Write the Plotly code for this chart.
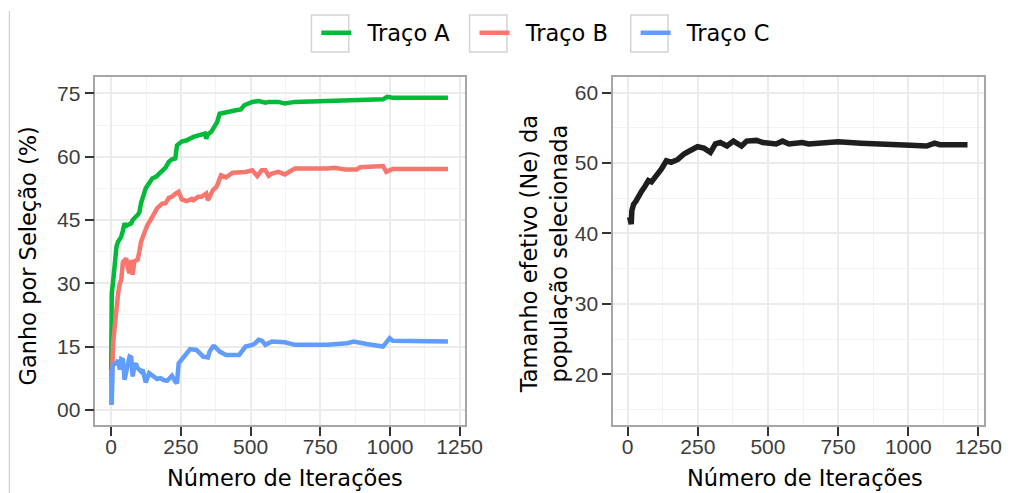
import plotly.graph_objects as go

W, H = 1023, 493

# ---- data ----
series_names = ["Traço A", "Traço B", "Traço C"]
series_colors = ["#00BA38", "#F8766D", "#619CFF"]

a_iter = [0, 2, 7, 13, 19, 25, 31, 36, 42, 48, 54, 60, 72, 77, 89, 95, 101, 107, 118, 124,
          136, 148, 160, 171, 183, 195, 207, 218, 230, 236, 253, 271, 295, 318, 336, 341, 347, 359, 371, 380,
          389, 412, 447, 465, 477, 506, 529, 553, 565, 600, 623, 659, 700, 776, 800, 834, 900, 975, 990, 1010,
          1100, 1208]
a_gain = [9.5, 27.6, 30.5, 35.5, 38.7, 39.9, 40.3, 41, 42.5, 44.2, 43.6, 43.8, 44.2, 45, 45.6, 46.2, 46.8, 49, 51.3, 52.5,
          53.7, 54.9, 55.2, 56, 56.5, 57.4, 58.8, 59.4, 59.6, 62.7, 63.6, 63.9, 64.7, 65.1, 65.5, 64.3, 65.3, 65.9, 67.5, 68.2,
          70.2, 70.6, 71, 71.2, 72.2, 73, 73.2, 72.8, 73, 73, 72.6, 73, 73.1, 73.2, 73.4, 73.4, 73.5, 73.6, 74.2, 74,
          74, 74]

b_iter = [0, 2, 7, 13, 19, 25, 31, 36, 42, 54, 60, 66, 72, 77, 83, 95, 101, 107, 118, 130,
          148, 165, 183, 195, 207, 218, 230, 242, 253, 271, 289, 295, 312, 324, 341, 347, 365, 377, 383, 394,
          412, 436, 482, 506, 524, 540, 553, 565, 576, 600, 623, 659, 776, 800, 840, 881, 893, 975, 987, 1010,
          1208]
b_gain = [1.2, 11, 15.8, 20, 25.5, 27.6, 30, 30.8, 35, 35.9, 33.5, 32.4, 35.5, 32, 35.2, 35.6, 37.5, 39.8, 41.8, 43.8,
          45.8, 47.8, 48.9, 49, 50.3, 50.5, 51.2, 51.7, 49.9, 49.5, 50, 49.7, 50.5, 50.5, 51.3, 49.7, 52.1, 52.8, 53.7, 55.6,
          55.1, 56.2, 56.4, 56.8, 55.4, 56.8, 56.8, 55.5, 56, 56.4, 55.8, 57.2, 57.2, 57.4, 57, 57, 57.5, 57.8, 56.4, 57.1,
          57.1]

c_iter = [0, 2, 5, 13, 19, 25, 31, 36, 42, 48, 54, 60, 66, 72, 77, 83, 89, 95, 107, 113,
          124, 136, 154, 165, 177, 190, 201, 218, 230, 236, 242, 259, 271, 283, 306, 330, 347, 353, 365, 371,
          389, 412, 459, 470, 482, 506, 517, 529, 541, 553, 576, 623, 659, 700, 776, 846, 870, 917, 975, 999,
          1010, 1208]
c_gain = [9.5, 1.2, 10.3, 11, 11, 11.8, 9.5, 12, 11.8, 7.1, 9, 11, 12.6, 12.4, 7.9, 10.3, 11, 9.9, 9.1, 9.5,
          6.5, 8.7, 7.9, 7.3, 7.5, 7.0, 6.9, 8.1, 6.7, 6.3, 11, 12.6, 13.5, 14.4, 14.2, 12.6, 12.4, 13.8, 15, 15,
          13.8, 13, 13, 14, 15, 15.4, 15.8, 16.6, 16.4, 15.4, 16.2, 16, 15.4, 15.4, 15.4, 15.8, 16.2, 15.6, 15, 17,
          16.4, 16.2]

ne_iter = [7, 13, 15, 21, 30, 38, 50, 62, 74, 85, 97, 110, 120, 138, 155, 179, 202, 225, 249, 272,
           295, 313, 330, 354, 377, 406, 424, 459, 482, 529, 552, 575, 622, 645, 715, 750, 832, 948, 1007, 1065,
           1094, 1112, 1211]
ne_size = [42.3, 41.3, 43.2, 44.1, 44.6, 45.3, 46.0, 46.7, 47.5, 47.3, 47.9, 48.6, 49.1, 50.3, 50.1, 50.5, 51.3, 51.8, 52.3, 52.1,
           51.5, 52.7, 52.9, 52.4, 53.1, 52.4, 53.1, 53.2, 52.9, 52.7, 53.1, 52.7, 52.9, 52.7, 52.9, 53, 52.8, 52.7, 52.5, 52.4,
           52.8, 52.6, 52.6]

x_ticks = [0, 250, 500, 750, 1000, 1250]
x_minor = [125, 375, 625, 875, 1125]
gain_ticks = [0, 15, 30, 45, 60, 75]
gain_ticktext = ["00", "15", "30", "45", "60", "75"]
gain_minor = [7.5, 22.5, 37.5, 52.5, 67.5]
ne_ticks = [20, 30, 40, 50, 60]
ne_minor = [15, 25, 35, 45, 55]

# ---- figure ----
fig = go.Figure()
legends = ["legend", "legend2", "legend3"]
for name, col, xs, ys, lg in zip(series_names, series_colors,
                                 [a_iter, b_iter, c_iter], [a_gain, b_gain, c_gain], legends):
    fig.add_trace(go.Scatter(x=xs, y=ys, mode="lines", name="\u2002" + name,
                             line=dict(color=col, width=4.5), legend=lg,
                             xaxis="x", yaxis="y"))
fig.add_trace(go.Scatter(x=ne_iter, y=ne_size, mode="lines", name="Ne",
                         line=dict(color="#1E1E1E", width=5.5), showlegend=False,
                         xaxis="x2", yaxis="y2"))

tick_font = dict(family="Liberation Sans, Arial, sans-serif", size=21, color="#3C3C3C")
title_font = dict(family="DejaVu Sans, sans-serif", size=22.5, color="#000000")

def axis_style(**kw):
    d = dict(showline=True, mirror=True, linecolor="#A6A6A6", linewidth=1.5,
             showgrid=True, gridcolor="#EBEBEB", gridwidth=1.5, zeroline=False,
             ticks="outside", ticklen=9, tickwidth=2, tickcolor="#333333",
             tickfont=tick_font, fixedrange=True)
    d.update(kw)
    return d

minor_grid = dict(showgrid=True, gridcolor="#F3F3F3", gridwidth=1, ticks="")

yb, yt = 1 - 425 / H, 1 - 77 / H
fig.update_layout(
    width=W, height=H,
    margin=dict(l=0, r=0, t=0, b=0),
    paper_bgcolor="white", plot_bgcolor="white",
    xaxis=axis_style(domain=[97 / W, 473 / W], range=[-57, 1268], tickmode="array", tickvals=x_ticks,
                     minor=dict(tickmode="array", tickvals=x_minor, **minor_grid), anchor="y",
                     ticklabelstandoff=-7),
    yaxis=axis_style(domain=[yb, yt], range=[-3.6, 78.9], tickmode="array", tickvals=gain_ticks,
                     ticktext=gain_ticktext,
                     minor=dict(tickmode="array", tickvals=gain_minor, **minor_grid), anchor="x"),
    xaxis2=axis_style(domain=[624 / W, 1002 / W], range=[-52, 1271], tickmode="array", tickvals=x_ticks,
                      minor=dict(tickmode="array", tickvals=x_minor, **minor_grid), anchor="y2",
                      ticklabelstandoff=-7),
    yaxis2=axis_style(domain=[yb, yt], range=[12.8, 62.2], tickmode="array", tickvals=ne_ticks,
                      minor=dict(tickmode="array", tickvals=ne_minor, **minor_grid), anchor="x2"),
    showlegend=True,
)

leg_common = dict(orientation="h", yanchor="middle", y=1 - 33 / H, xanchor="left", itemwidth=30,
                  font=dict(family="DejaVu Sans, sans-serif", size=22.5, color="#000000"),
                  bgcolor="rgba(0,0,0,0)", borderwidth=0)
fig.update_layout(legend=dict(x=322 / W, **leg_common),
                  legend2=dict(x=483 / W, **leg_common),
                  legend3=dict(x=647 / W, **leg_common))

# legend key boxes and page edge line
shapes = []
for x0 in [317, 478, 642]:
    shapes.append(dict(type="rect", xref="paper", yref="paper",
                       x0=x0 / W, x1=(x0 + 38) / W, y0=1 - 52 / H, y1=1 - 15 / H,
                       line=dict(color="#D4D4D4", width=1.5), fillcolor="rgba(0,0,0,0)", layer="below"))
shapes.append(dict(type="line", xref="paper", yref="paper", x0=9.5 / W, x1=9.5 / W, y0=0, y1=1 - 11 / H,
                   line=dict(color="#C8C8C8", width=1)))
fig.update_layout(shapes=shapes)

ann = [
    dict(text="Ganho por Seleção (%)", x=29 / W, y=1 - 256 / H, textangle=-90),
    dict(text="Tamanho efetivo (Ne) da<br>população selecionada", x=554 / W, y=1 - 254 / H, textangle=-90),
    dict(text="Número de Iterações", x=290 / W, y=1 - 478 / H),
    dict(text="Número de Iterações", x=819 / W, y=1 - 478 / H),
]
for a in ann:
    a.update(xref="paper", yref="paper", showarrow=False, xanchor="center", yanchor="middle",
             font=title_font)
fig.update_layout(annotations=ann)

fig.write_html("out.html")
